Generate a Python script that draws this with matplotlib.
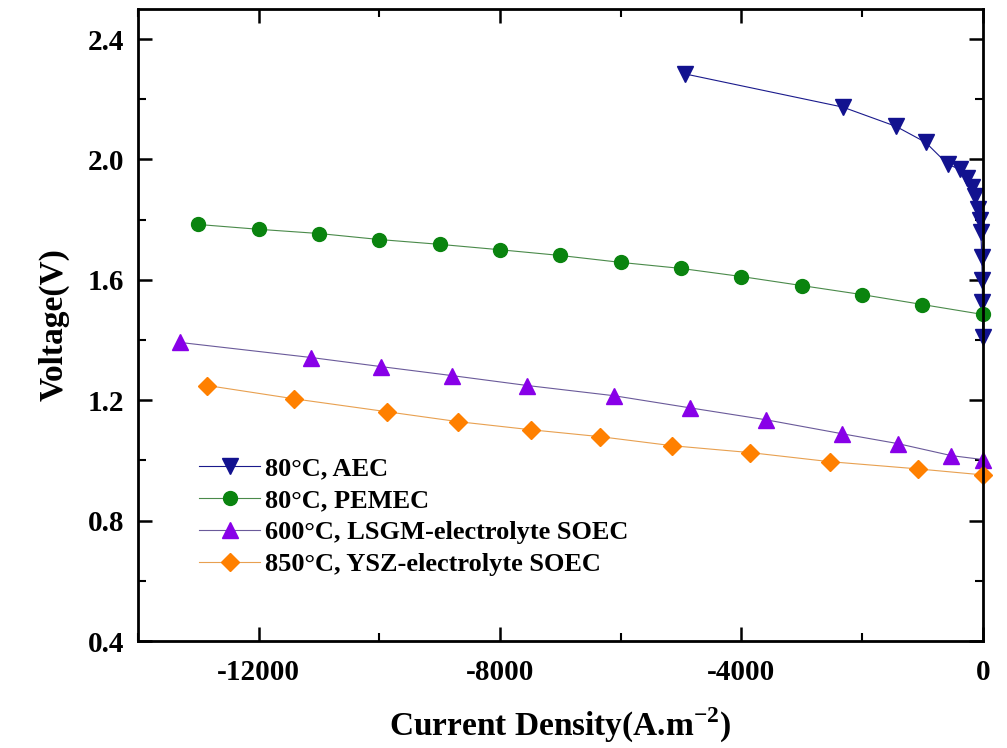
import matplotlib
matplotlib.use("Agg")
import matplotlib.pyplot as plt
from matplotlib.ticker import MultipleLocator

plt.rcParams['font.family'] = ['Liberation Serif', 'DejaVu Serif']
plt.rcParams['font.weight'] = 'bold'
plt.rcParams['axes.unicode_minus'] = False
plt.rcParams['mathtext.fontset'] = 'custom'
plt.rcParams['mathtext.rm'] = 'Liberation Serif:bold'
plt.rcParams['mathtext.bf'] = 'Liberation Serif:bold'

# 80 C alkaline electrolyser
aec_j = [-4930, -2320, -1440, -950, -580, -380, -270, -180, -130, -85, -50, -33, -17, -10, -6, -3]
aec_v = [2.284, 2.174, 2.110, 2.057, 1.984, 1.967, 1.940, 1.910, 1.877, 1.834, 1.800, 1.760, 1.675, 1.600, 1.528, 1.410]

# 80 C PEM electrolyser
pem_j = [-13000, -12000, -11000, -10000, -9000, -8000, -7000, -6000, -5000, -4000, -3000, -2000, -1000, 0]
pem_v = [1.784, 1.768, 1.754, 1.734, 1.718, 1.700, 1.681, 1.658, 1.638, 1.611, 1.581, 1.551, 1.518, 1.485]

# 600 C LSGM-electrolyte SOEC
lsgm_j = [-13300, -11130, -9980, -8800, -7550, -6110, -4860, -3590, -2340, -1410, -520, 0]
lsgm_v = [1.392, 1.342, 1.312, 1.282, 1.249, 1.215, 1.175, 1.135, 1.089, 1.056, 1.016, 1.003]

# 850 C YSZ-electrolyte SOEC
ysz_j = [-12850, -11420, -9880, -8700, -7490, -6340, -5150, -3850, -2540, -1080, 0]
ysz_v = [1.249, 1.205, 1.162, 1.129, 1.102, 1.079, 1.049, 1.026, 0.996, 0.972, 0.952]

fig = plt.figure(figsize=(10.07, 7.48), dpi=100)
ax = fig.add_axes([0.137, 0.143, 0.839, 0.845])

ax.plot(aec_j, aec_v, '-', color='#1a1a8c', lw=0.8, marker='v', ms=12,
        mfc='#12128f', mec='#12128f', label='80°C, AEC', clip_on=False)
ax.plot(pem_j, pem_v, '-', color='#4a8a4a', lw=0.8, marker='o', ms=10,
        mfc='#0a840f', mec='#0a840f', label='80°C, PEMEC', clip_on=False)
ax.plot(lsgm_j, lsgm_v, '-', color='#6a5a9a', lw=0.8, marker='^', ms=11,
        mfc='#8800e8', mec='#8800e8', label='600°C, LSGM-electrolyte SOEC', clip_on=False)
ax.plot(ysz_j, ysz_v, '-', color='#e8a050', lw=0.8, marker='D', ms=9,
        mfc='#ff8000', mec='#ff8000', label='850°C, YSZ-electrolyte SOEC', clip_on=False)

ax.set_xlim(-14000, 0)
ax.set_ylim(0.4, 2.5)
ax.xaxis.set_major_locator(MultipleLocator(4000))
ax.xaxis.set_minor_locator(MultipleLocator(2000))
ax.yaxis.set_major_locator(MultipleLocator(0.4))
ax.yaxis.set_minor_locator(MultipleLocator(0.2))
ax.yaxis.set_major_formatter(plt.FuncFormatter(lambda v, p: f'{v:.1f}'))

ax.tick_params(which='both', direction='in', top=True, right=True, labelsize=21)
ax.tick_params(which='major', length=10, width=1.8)
ax.tick_params(which='minor', length=6, width=1.5)
ax.tick_params(axis='x', pad=13)
ax.tick_params(axis='y', pad=10)
for s in ax.spines.values():
    s.set_linewidth(2)

ax.set_xlabel('Current Density(A.m$^{-2}$)', fontsize=24, fontweight='bold', labelpad=14)
ax.set_ylabel('Voltage(V)', fontsize=24, fontweight='bold', labelpad=13)

ax.legend(loc='upper left', bbox_to_anchor=(0.06, 0.308), frameon=False,
          fontsize=19, handlelength=2.3, labelspacing=0.32, handletextpad=0.2,
          borderaxespad=0)

fig.savefig('out.png', dpi=100)
